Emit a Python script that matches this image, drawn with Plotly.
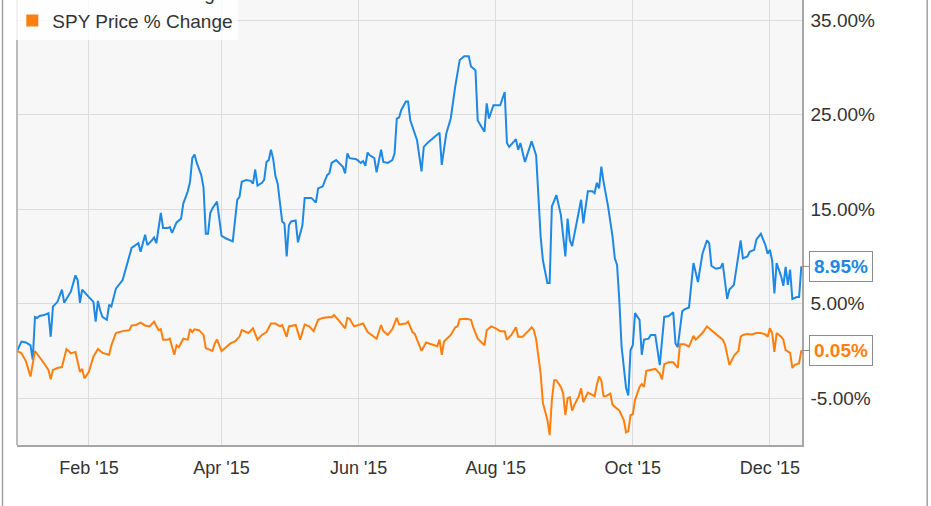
import pandas as pd
import plotly.graph_objects as go

# ---------------- data ----------------
base_date = "2014-12-31"

ibb_name = "IBB Price % Change"
ibb_day = [0, 2, 4, 6, 7, 8, 9, 10, 12, 14, 15, 16, 18, 19, 20, 21, 24, 26, 27, 28, 29,
           32, 34, 35, 36, 37, 38, 40, 41, 42, 44, 47, 49, 51, 54, 55, 57, 58,
           60, 61, 62, 64, 65, 67, 68, 69, 71, 73, 74, 76, 77, 78, 79, 80, 82, 83, 84, 85, 86, 87, 89, 90,
           91, 93, 96, 98, 99, 100, 102, 104, 105, 106, 107, 109, 110, 111, 112, 113, 114, 115, 116, 118, 119, 120,
           121, 122, 124, 125, 127, 128, 131, 133, 134, 136, 138, 139, 140, 142, 145, 146, 147, 148, 151,
           153, 154, 155, 156, 157, 159, 160, 162, 163, 165, 167, 168, 169, 170, 171, 173, 174, 175, 178, 180, 181,
           183, 186, 188, 189, 191, 193, 195, 197, 199, 201, 202, 204, 205, 208, 209, 210, 212,
           215, 217, 218, 219, 222, 223, 224, 226, 229, 231, 233, 234, 236, 237, 238, 240, 242, 243,
           244, 245, 246, 247, 248, 251, 252, 254, 256, 257, 258, 259, 260, 261, 263, 265, 266, 267, 268, 269, 271, 272, 273,
           274, 275, 277, 278, 279, 281, 282, 284, 286, 288, 290, 292, 293, 294, 296, 297, 299, 301, 303,
           305, 307, 308, 309, 311, 313, 314, 316, 317, 319, 322, 323, 325, 326, 328, 329, 331, 333, 334,
           335, 336, 337, 338, 340, 341, 342, 343, 344, 345, 347, 348, 349]
ibb_pct = [0.0, 1.0, 0.9, 0.6, -0.9, 3.6, 3.5, 3.7, 3.8, 4.0, 1.5, 4.7, 5.2, 5.9, 6.5, 5.1, 6.3, 8.0, 7.5, 5.1, 6.5,
           5.7, 5.2, 3.1, 5.3, 4.3, 3.6, 3.3, 4.9, 4.7, 6.6, 7.5, 9.3, 10.9, 11.4, 10.5, 12.3, 11.2,
           11.7, 12.0, 11.4, 14.6, 13.0, 13.0, 13.1, 12.5, 13.6, 14.0, 15.6, 16.9, 17.9, 20.4, 20.8, 19.9, 18.6, 17.3, 12.4, 12.4, 14.6, 15.1, 15.8, 14.0,
           12.2, 11.9, 11.6, 16.0, 16.3, 17.9, 18.1, 18.0, 17.7, 19.2, 17.5, 17.8, 18.1, 20.0, 20.2, 21.3, 20.3, 18.5, 17.7, 13.7, 13.5, 10.0,
           13.3, 13.7, 13.8, 11.5, 13.3, 16.2, 16.2, 15.7, 17.2, 17.4, 18.6, 18.8, 19.9, 20.2, 19.5, 18.8, 20.9, 20.4, 20.3,
           19.9, 20.1, 19.6, 21.0, 20.7, 20.4, 18.9, 21.3, 20.0, 19.9, 20.2, 20.9, 24.6, 24.7, 25.5, 26.4, 26.4, 24.4, 22.3, 19.0, 21.6,
           22.1, 22.7, 23.1, 19.7, 23.0, 24.6, 28.0, 30.8, 31.2, 31.2, 30.1, 29.7, 24.4, 23.2, 26.2, 24.6, 26.0,
           26.0, 27.4, 22.0, 21.6, 22.4, 21.3, 22.0, 20.0, 22.2, 20.7, 12.1, 9.6, 7.2, 7.2, 15.3, 16.5, 14.4, 12.5,
           10.0, 14.0, 11.7, 11.1, 12.3, 16.0, 13.5, 16.9, 16.9, 16.7, 17.8, 17.2, 19.5, 17.9, 15.3, 12.1, 9.8, 9.1, 5.4, 0.5, -3.9, -4.7, 0.1,
           0.6, 4.0, 3.3, -0.4, 1.2, 1.3, 1.7, 1.7, -1.5, 3.6, 3.7, 4.1, 0.8, 0.4, 4.2, 4.4, 4.6, 9.3, 7.3,
           10.3, 11.7, 11.4, 9.0, 8.7, 8.8, 9.3, 5.5, 6.5, 7.0, 11.7, 9.8, 10.0, 10.5, 10.7, 11.8, 12.4, 11.2, 10.3,
           10.7, 9.6, 6.1, 9.3, 7.9, 6.9, 8.9, 7.0, 8.6, 5.5, 5.7, 5.7, 8.95]

spy_name = "SPY Price % Change"
spy_day = [0, 2, 4, 6, 8, 10, 12, 14, 15, 16, 18, 20, 22, 24, 26, 28, 29, 30,
           32, 34, 36, 38, 41, 42, 44, 47, 50, 51, 53, 55, 57, 59,
           61, 63, 64, 65, 67, 68, 70, 71, 72, 74, 76, 77, 78, 79, 81, 83, 84, 87, 88, 89,
           91, 93, 95, 97, 99, 100, 103, 105, 107, 109, 111, 113, 115, 117, 118, 120,
           121, 124, 126, 128, 130, 132, 134, 136, 139, 140, 141, 143, 146, 147, 148, 150,
           152, 154, 156, 158, 160, 162, 163, 165, 167, 169, 170, 173, 174, 176, 177, 179, 180,
           182, 185, 187, 188, 189, 190, 193, 195, 196, 197, 200, 202, 203, 205, 208, 209, 211,
           213, 215, 217, 218, 220, 222, 223, 225, 227, 229, 230, 231, 233, 234, 236, 237, 238, 239, 240, 242, 243,
           244, 245, 246, 247, 248, 250, 251, 252, 254, 256, 257, 258, 259, 260, 261, 262, 264, 265, 267, 268, 270, 271, 272, 273,
           274, 275, 276, 277, 278, 279, 280, 282, 284, 286, 287, 288, 290, 292, 294, 295, 297, 299, 301, 302,
           305, 307, 309, 312, 314, 315, 317, 319, 321, 322, 323, 325, 327, 329, 331, 333, 334,
           335, 336, 337, 338, 340, 341, 342, 344, 345, 346, 348, 349]
spy_pct = [0.0, -0.25, -1.1, -2.7, 0.0, -0.6, -1.3, -2.0, -3.0, -2.0, -1.8, -1.7, 0.2, -0.25, -0.1, -2.2, -1.9, -2.9,
           -2.2, -0.6, 0.2, -0.2, -0.4, 0.6, 1.9, 2.1, 2.2, 2.7, 2.75, 3.0, 2.7, 2.6,
           3.1, 2.2, 2.3, 1.2, 1.2, 1.3, -0.4, 0.6, 0.4, 1.3, 1.2, 2.3, 2.0, 2.3, 2.2, 1.7, 0.3, 0.0, 0.8, 1.2,
           0.0, 0.4, 0.8, 1.0, 1.5, 2.2, 1.9, 2.4, 1.2, 1.7, 2.0, 2.9, 2.9, 2.6, 2.75, 1.5,
           2.6, 2.75, 1.2, 2.8, 2.6, 2.1, 3.3, 3.5, 3.6, 3.55, 3.8, 3.3, 2.4, 3.5, 3.4, 2.6,
           2.75, 2.9, 2.0, 1.6, 1.3, 2.75, 2.1, 1.7, 2.3, 3.5, 2.8, 2.9, 3.1, 2.0, 1.8, 0.6, 0.0,
           0.9, 0.7, 0.5, 1.2, -0.4, 1.0, 1.7, 2.5, 2.6, 3.35, 3.4, 3.3, 2.5, 1.3, 0.6, 2.2, 2.6,
           2.4, 2.1, 2.1, 1.2, 1.7, 2.5, 1.5, 1.5, 2.0, 2.5, 2.2, 1.2, -2.4, -5.5, -7.3, -8.9, -5.2, -3.1, -3.1, -3.8, -4.5,
           -6.8, -5.0, -4.9, -6.3, -5.7, -4.8, -3.95, -5.4, -4.4, -4.65, -4.8, -3.6, -2.7, -3.1, -4.8, -4.8, -4.5, -5.7, -6.1, -6.3, -7.3, -8.6, -8.5, -6.8,
           -6.7, -5.2, -4.5, -3.8, -3.5, -3.8, -2.1, -2.0, -1.9, -2.4, -3.0, -1.4, -1.2, -1.2, -1.8, 0.7, 0.7, 0.45, 1.6, 1.2,
           1.9, 2.6, 2.2, 1.7, 1.2, 0.7, -1.5, -0.5, 0.0, 1.5, 1.7, 1.8, 1.75, 1.9, 1.9, 1.75, 1.5,
           2.4, 1.9, -0.1, 1.9, 1.5, 1.2, 0.1, -0.2, -1.8, -1.5, -1.3, 0.05]

x_tick_dates = ["2015-02-01", "2015-04-01", "2015-06-01", "2015-08-01", "2015-10-01", "2015-12-01"]
x_tick_labels = ["Feb '15", "Apr '15", "Jun '15", "Aug '15", "Oct '15", "Dec '15"]
y_ticks = [-5, 5, 15, 25, 35]
y_tick_labels = ["-5.00%", "5.00%", "15.00%", "25.00%", "35.00%"]

x_range = ["2014-12-31", "2015-12-15 07:00"]
y_range = [-9.95, 37.14]

# ---------------- styling ----------------
BLUE = "#1e88e5"
ORANGE = "#ff7f0e"
FONT = "Liberation Sans, Arial, sans-serif"
TXT = "#333333"

base = pd.Timestamp(base_date)
ibb_x = base + pd.to_timedelta(ibb_day, unit="D")
spy_x = base + pd.to_timedelta(spy_day, unit="D")

fig = go.Figure()
fig.add_trace(go.Scatter(x=ibb_x, y=ibb_pct, mode="lines", line=dict(color=BLUE, width=2),
                         showlegend=False, hoverinfo="skip"))
fig.add_trace(go.Scatter(x=spy_x, y=spy_pct, mode="lines", line=dict(color=ORANGE, width=2),
                         showlegend=False, hoverinfo="skip"))
# legend proxies with square swatches
fig.add_trace(go.Scatter(x=[None], y=[None], mode="markers", name=ibb_name,
                         marker=dict(symbol="square", size=11, color="#90caf9")))
fig.add_trace(go.Scatter(x=[None], y=[None], mode="markers", name=spy_name,
                         marker=dict(symbol="square", size=11, color=ORANGE)))

# end-value callouts
for xs, ys, col in [(ibb_x, ibb_pct, BLUE), (spy_x, spy_pct, ORANGE)]:
    fig.add_annotation(x=xs[-1], y=ys[-1], text=f"<b>{ys[-1]:.2f}%</b>",
                       showarrow=True, arrowhead=0, arrowwidth=1, arrowcolor="#8c8c8c",
                       ax=8, ay=0, xanchor="left", yanchor="middle",
                       font=dict(family=FONT, size=19, color=col),
                       bgcolor="white", bordercolor="#8c8c8c", borderwidth=1, borderpad=4)

# plot left border and outer frame
fig.add_shape(type="line", xref="paper", yref="paper", x0=0, x1=0, y0=0, y1=1,
              line=dict(color="#a6a6a6", width=1.5))
for fx in [-0.0185, 1.1595]:
    fig.add_shape(type="line", xref="paper", yref="paper", x0=fx, x1=fx, y0=-0.2, y1=1.05,
                  line=dict(color="#a0a0a0", width=1.5))

fig.update_layout(
    width=931, height=506,
    margin=dict(l=17, r=129, t=0, b=61, autoexpand=False),
    paper_bgcolor="white", plot_bgcolor="#f7f7f7",
    font=dict(family=FONT, size=18, color=TXT),
    legend=dict(x=-0.006, y=1.0585, xanchor="left", yanchor="top",
                bgcolor="rgba(255,255,255,0.8)", borderwidth=0,
                font=dict(family=FONT, size=19, color=TXT),
                itemsizing="constant", tracegroupgap=0),
    xaxis=dict(range=x_range, type="date", tickvals=x_tick_dates, ticktext=x_tick_labels,
               showgrid=True, gridcolor="#dcdcdc", gridwidth=1,
               showline=True, linecolor="#a6a6a6", linewidth=1.5,
               ticks="", ticklabelstandoff=6, zeroline=False,
               tickfont=dict(family=FONT, size=18, color=TXT)),
    yaxis=dict(range=y_range, side="right", tickvals=y_ticks, ticktext=y_tick_labels,
               showgrid=True, gridcolor="#dcdcdc", gridwidth=1,
               showline=True, linecolor="#a6a6a6", linewidth=1.5,
               ticks="", ticklabelstandoff=3, zeroline=False,
               tickfont=dict(family=FONT, size=19, color=TXT)),
)

fig.write_html("out.html", config={"displayModeBar": False},
               post_script="document.body.style.margin='0px';")
